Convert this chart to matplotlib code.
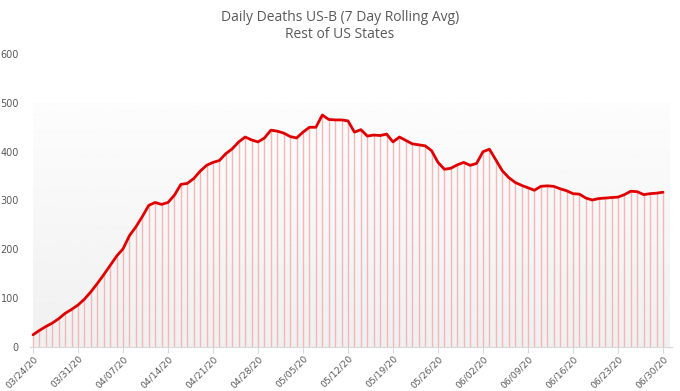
import numpy as np
import matplotlib
matplotlib.use("Agg")
import matplotlib.pyplot as plt

# 7 day rolling avg of daily deaths, 03/24/20 .. 06/30/20 (one value per day)
deaths = [25, 34, 42, 49, 58, 69, 77, 86, 98, 113,
          130, 148, 167, 186, 201, 228, 246, 267, 290, 296,
          292, 296, 311, 333, 335, 345, 360, 372, 378, 382,
          396, 406, 420, 430, 424, 420, 428, 444, 442, 438,
          431, 428, 440, 450, 450, 475, 466, 465, 465, 463,
          440, 445, 432, 434, 433, 436, 420, 430, 423, 416,
          414, 412, 402, 378, 364, 366, 373, 378, 372, 376,
          400, 405, 383, 361, 347, 337, 331, 326, 321, 329,
          330, 329, 324, 320, 314, 313, 305, 301, 304, 305,
          306, 307, 312, 319, 318, 312, 314, 315, 317]
tick_labels = ["03/24/20", "03/31/20", "04/07/20", "04/14/20", "04/21/20",
               "04/28/20", "05/05/20", "05/12/20", "05/19/20", "05/26/20",
               "06/02/20", "06/09/20", "06/16/20", "06/23/20", "06/30/20"]

days = np.arange(len(deaths))
txt = "#595959"

fig = plt.figure(figsize=(6.8, 3.91), dpi=100)
ax = fig.add_axes([30 / 680, 44 / 391, 642 / 680, 293 / 391])

# light gray gradient behind the data
grad = np.linspace(0.99, 0.94, 256).reshape(-1, 1)
ax.imshow(grad, cmap="gray", vmin=0, vmax=1, aspect="auto",
          extent=[0, 99, 0, 500], origin="upper", zorder=0)

ax.vlines(days, 0, deaths, color="#f2b8b8", lw=1, zorder=1)
ax.plot(days, deaths, color="#e00000", lw=2, solid_joinstyle="round",
        solid_capstyle="round", zorder=2)

ax.set_xlim(-0.47, 99.4)
ax.set_ylim(0, 600)
ax.set_yticks(range(0, 601, 100))
ax.set_xticks(days[::7])
ax.set_xticklabels(tick_labels, rotation=45, ha="right", rotation_mode="anchor")

for s in ["top", "right", "left"]:
    ax.spines[s].set_visible(False)
ax.spines["bottom"].set_color("#d9d9d9")
ax.tick_params(axis="y", length=0, pad=8, labelsize=7, labelcolor=txt)
ax.tick_params(axis="x", length=4, color="#d9d9d9", pad=1, labelsize=6.6, labelcolor=txt)

fig.text(0.5, 0.955, "Daily Deaths US-B (7 Day Rolling Avg)", ha="center", va="center",
         fontsize=10, color=txt, family="Open Sans")
fig.text(0.5, 0.912, "Rest of US States", ha="center", va="center",
         fontsize=10, color=txt, family="Open Sans")

fig.savefig("out.png", dpi=100)
